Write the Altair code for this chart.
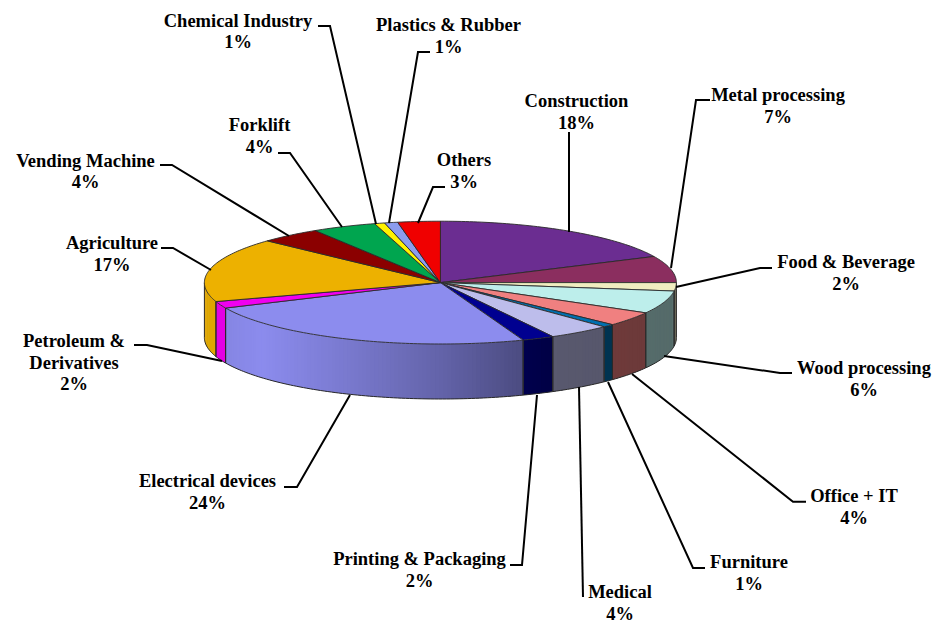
import math
import numpy as np
import altair as alt

categories = ["Construction", "Metal processing", "Food & Beverage", "Wood processing", "Office + IT",
              "Furniture", "Medical", "Printing & Packaging", "Electrical devices",
              "Petroleum & Derivatives", "Agriculture", "Vending Machine", "Forklift",
              "Chemical Industry", "Plastics & Rubber", "Others"]
shares = [18.0, 7.0, 2.2, 6.0, 3.8, 0.8, 4.3, 2.2, 23.9, 1.8, 16.9, 4.2, 4.4, 0.7, 0.9, 2.9]
colors = ["#6B2D91", "#8B2E5F", "#F0EDC0", "#BDEEEB", "#F08080", "#0070B0", "#BDBDEB", "#000090",
          "#8C8CEE", "#F000F0", "#EDB100", "#8B0000", "#00A54F", "#FFF200", "#8C9CEE", "#F00000"]
label_lines = [["Construction", "18%"], ["Metal processing", "7%"], ["Food & Beverage", "2%"],
               ["Wood processing", "6%"], ["Office + IT", "4%"], ["Furniture", "1%"],
               ["Medical", "4%"], ["Printing & Packaging", "2%"], ["Electrical devices", "24%"],
               ["Petroleum &", "Derivatives", "2%"], ["Agriculture", "17%"], ["Vending Machine", "4%"],
               ["Forklift", "4%"], ["Chemical Industry", "1%"], ["Plastics & Rubber", "1%"], ["Others", "3%"]]

# layout (image pixels)
CX, CY, RX, RY, DEPTH = 440.4, 282.6, 236.0, 61.4, 55.0
label_x = [576.5, 778, 846, 864, 854, 749, 620, 419.5, 207.5, 74, 112, 85.5, 259.5, 238, 448.5, 464]
label_y = [101, 95, 262, 368, 496, 562, 592, 559, 481, 341, 243, 160.5, 125, 20.5, 25, 160]
line_gap = 21.7
leaders = [
    [(569, 132), (569, 232)],
    [(710, 100), (696, 100), (671, 268)],
    [(772, 268), (760, 268), (676, 287)],
    [(792, 373), (780, 373), (664, 356)],
    [(806, 501.7), (793, 501.7), (632, 374)],
    [(705, 568), (693, 568), (608, 382)],
    [(583, 597), (579, 387)],
    [(510, 565), (522, 565), (537, 395)],
    [(284, 487), (297, 487), (350, 395)],
    [(134, 345), (147, 345), (222, 361)],
    [(161, 248), (173, 248), (211, 270)],
    [(160, 165), (172, 165), (289, 236)],
    [(278, 153), (290, 153), (342, 227)],
    [(318, 26), (330, 26), (376, 224)],
    [(430, 52), (418, 52), (389, 223)],
    [(445, 187), (433, 187), (418, 223)],
]
shade_x = [204, 265, 350, 440, 523, 560, 677]
shade_f = [0.93, 1.0, 0.87, 0.72, 0.55, 0.47, 0.45]


def ell(theta, dy=0.0):
    t = math.radians(theta)
    return [CX + RX * math.sin(t), CY - RY * math.cos(t) + dy]


def mix(hexcol, f):
    r, g, b = (int(hexcol[i:i + 2], 16) for i in (1, 3, 5))
    return "#%02x%02x%02x" % (int(r * f), int(g * f), int(b * f))


def feature(kind, coords, fill="none"):
    return {"type": "Feature", "geometry": {"type": kind, "coordinates": coords},
            "properties": {"fill": fill}}


strips, side_lines, tops = [], [], []
edges = np.cumsum([0.0] + shares) / sum(shares) * 360.0
for i, col in enumerate(colors):
    a0, a1 = edges[i], edges[i + 1]
    steps = max(2, int((a1 - a0) / 1.0) + 1)
    arc = [ell(a) for a in np.linspace(a0, a1, steps)]
    tops.append(feature("Polygon", [[[CX, CY]] + arc + [[CX, CY]]], col))
    s0, s1 = max(a0, 90.0), min(a1, 270.0)
    if s1 <= s0:
        continue
    n = max(1, int((s1 - s0) / 1.0))
    grid = np.linspace(s0, s1, n + 1)
    # painted right to left, each strip reaching under its neighbour so no seam shows
    for u, v in reversed(list(zip(grid[:-1], grid[1:]))):
        end = min(v + (v - u) * 0.8, s1)
        arc_top = [ell(a) for a in (u, v, end)]
        arc_low = [ell(a, DEPTH) for a in (end, v, u)]
        mid = ell((u + v) / 2)
        f = float(np.interp(mid[0], shade_x, shade_f))
        strips.append(feature("Polygon", [arc_top + arc_low + [arc_top[0]]], mix(col, f)))
    low = [ell(a, DEPTH) for a in grid]
    side_lines.append(feature("LineString", [ell(s0)] + low + [ell(s1)]))

proj = dict(type="identity", scale=1, translate=[-8, -8])


def geo(features):
    return alt.Data(values=features)


strip_layer = alt.Chart(geo(strips)).mark_geoshape(strokeWidth=0).encode(
    fill=alt.Fill("properties.fill:N", scale=None, sort=None)).project(**proj)
side_layer = alt.Chart(geo(side_lines)).mark_geoshape(
    filled=False, stroke="#2a2a2a", strokeWidth=1).project(**proj)
top_layer = alt.Chart(geo(tops)).mark_geoshape(stroke="#2a2a2a", strokeWidth=0.9).encode(
    fill=alt.Fill("properties.fill:N", scale=None)).project(**proj)
leader_layer = alt.Chart(geo([feature("LineString", [list(p) for p in l]) for l in leaders])).mark_geoshape(
    filled=False, stroke="black", strokeWidth=2, strokeJoin="miter").project(**proj)

rows = []
for lines, x, y in zip(label_lines, label_x, label_y):
    for k, line in enumerate(lines):
        rows.append({"text": line, "lon": x, "lat": y + k * line_gap})
text_layer = alt.Chart(alt.Data(values=rows)).mark_text(
    font="Liberation Serif", fontWeight="bold", fontSize=18.5, color="black", align="center", baseline="middle"
).encode(longitude="lon:Q", latitude="lat:Q", text="text:N").project(**proj)

chart = alt.layer(strip_layer, side_layer, top_layer, leader_layer, text_layer).properties(
    width=926, height=614, padding=0, autosize=alt.AutoSizeParams(type="none")
).configure_view(stroke=None)
chart.save("out.html", embed_options={"renderer": "svg", "actions": False})
